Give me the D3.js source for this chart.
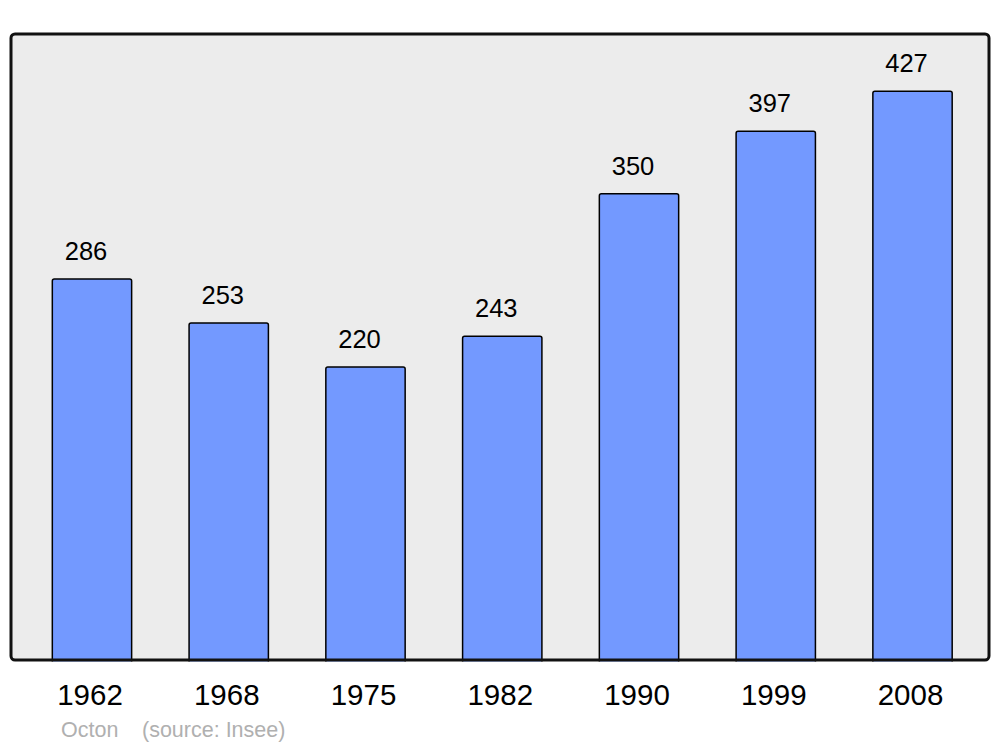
<!DOCTYPE html>
<html>
<head>
<meta charset="utf-8">
<script src="https://cdn.jsdelivr.net/npm/d3@7"></script>
<style>
  body { margin: 0; background: #fff; }
  text { font-family: "Liberation Sans", Arial, sans-serif; }
</style>
</head>
<body>
<div id="chart"></div>
<script>
// population data (source: Insee)
var years = ["1962", "1968", "1975", "1982", "1990", "1999", "2008"];
var population = [286, 253, 220, 243, 350, 397, 427];

var width = 1000,
  height = 747;

// panel box
var panel = { left: 11, top: 34, right: 989, bottom: 660 };

var svg = d3
  .select("#chart")
  .append("svg")
  .attr("width", width)
  .attr("height", height);

// background panel
svg
  .append("rect")
  .attr("x", panel.left)
  .attr("y", panel.top)
  .attr("width", panel.right - panel.left)
  .attr("height", panel.bottom - panel.top)
  .attr("rx", 4)
  .attr("fill", "#ececec");

// scales
var x = d3
  .scaleBand()
  .domain(years)
  .range([23.6, 980.9])
  .paddingInner(0.42)
  .paddingOuter(0.21);

var y = d3.scaleLinear().domain([0, 470]).range([panel.bottom, panel.top]);

// bars
svg
  .selectAll("bars")
  .data(years)
  .enter()
  .append("rect")
  .attr("x", function (d) {
    return x(d);
  })
  .attr("y", function (d, i) {
    return y(population[i]);
  })
  .attr("width", x.bandwidth())
  .attr("height", function (d, i) {
    return y(0) - y(population[i]) + 4;
  })
  .attr("rx", 2)
  .attr("fill", "#7399ff")
  .attr("stroke", "#000")
  .attr("stroke-width", 1.5);

// cover the bar bottoms below the panel, then draw the border on top
svg
  .append("rect")
  .attr("x", panel.left)
  .attr("y", panel.bottom + 1.5)
  .attr("width", panel.right - panel.left)
  .attr("height", 10)
  .attr("fill", "#fff");

svg
  .append("rect")
  .attr("x", panel.left)
  .attr("y", panel.top)
  .attr("width", panel.right - panel.left)
  .attr("height", panel.bottom - panel.top)
  .attr("rx", 4)
  .attr("fill", "none")
  .attr("stroke", "#111")
  .attr("stroke-width", 3);

// value labels
svg
  .selectAll("values")
  .data(years)
  .enter()
  .append("text")
  .text(function (d, i) {
    return population[i];
  })
  .attr("x", function (d) {
    return x(d) + x.bandwidth() / 2 - 6;
  })
  .attr("y", function (d, i) {
    return y(population[i]) - 19;
  })
  .style("text-anchor", "middle")
  .style("font-size", "25.5px")
  .style("fill", "#000");

// year labels
svg
  .selectAll("years")
  .data(years)
  .enter()
  .append("text")
  .text(function (d) {
    return d;
  })
  .attr("x", function (d) {
    return x(d) + x.bandwidth() / 2 - 2;
  })
  .attr("y", 705)
  .style("text-anchor", "middle")
  .style("font-size", "29.5px")
  .style("fill", "#000");

// footer
svg
  .append("text")
  .attr("x", 61)
  .attr("y", 737)
  .style("font-size", "21.5px")
  .style("fill", "#b0b0b0")
  .text("Octon");

svg
  .append("text")
  .attr("x", 142)
  .attr("y", 737)
  .style("font-size", "21.5px")
  .style("fill", "#b0b0b0")
  .text("(source: Insee)");
</script>
</body>
</html>
